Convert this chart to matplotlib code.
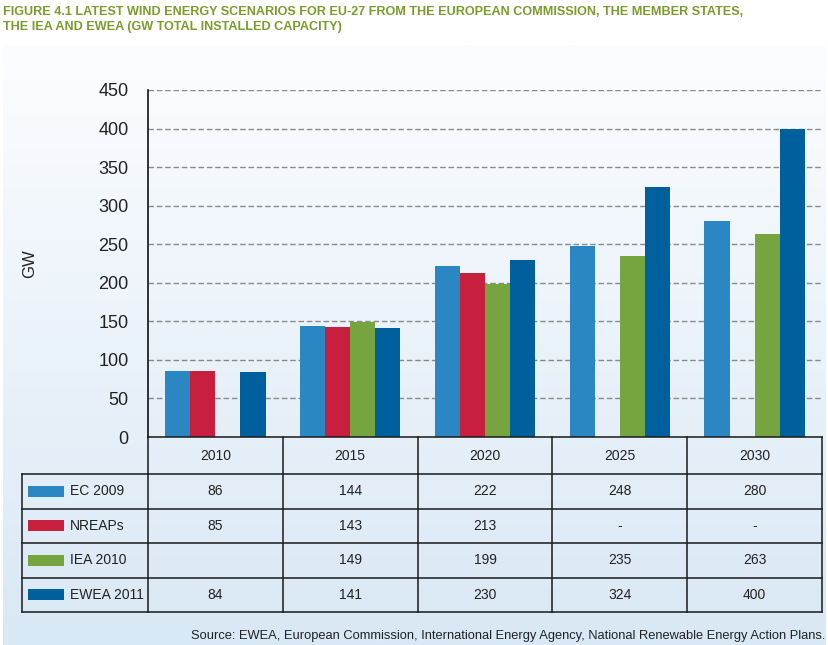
import numpy as np
import matplotlib
matplotlib.use("Agg")
import matplotlib.pyplot as plt
from matplotlib.patches import Rectangle

years = ["2010", "2015", "2020", "2025", "2030"]
series = ["EC 2009", "NREAPs", "IEA 2010", "EWEA 2011"]
ec_2009 = [86, 144, 222, 248, 280]
nreaps = [85, 143, 213, None, None]
iea_2010 = [None, 149, 199, 235, 263]
ewea_2011 = [84, 141, 230, 324, 400]
colors = ["#2b86c4", "#c81f3f", "#76a540", "#005f9d"]
all_values = [ec_2009, nreaps, iea_2010, ewea_2011]

plt.rcParams["font.family"] = ["Liberation Sans", "DejaVu Sans"]

W, H = 829, 645
fig = plt.figure(figsize=(W / 100, H / 100), dpi=100)
fig.patch.set_facecolor("white")


def px(x0, y0, x1, y1):
    # pixel box (top-left origin) -> figure fraction rect
    return [x0 / W, 1 - y1 / H, (x1 - x0) / W, (y1 - y0) / H]


# gradient panel behind everything
bg = fig.add_axes(px(3, 45, 826, 645), zorder=0)
grad = np.linspace(0, 1, 256).reshape(-1, 1)
cmap = matplotlib.colors.LinearSegmentedColormap.from_list("bg", ["#fcfdff", "#d9e8f5"])
bg.imshow(grad, aspect="auto", cmap=cmap, extent=[0, 1, 0, 1], origin="upper")
bg.axis("off")

# title
title_font = dict(family=["Liberation Sans", "DejaVu Sans"], weight="bold",
                  color="#7a9c2c", fontsize=9.1)
fig.text(3 / W, 1 - 12 / H, "FIGURE 4.1 LATEST WIND ENERGY SCENARIOS FOR EU-27 FROM THE EUROPEAN COMMISSION, THE MEMBER STATES,",
         va="center", ha="left", **title_font)
fig.text(3 / W, 1 - 27 / H, "THE IEA AND EWEA (GW TOTAL INSTALLED CAPACITY)",
         va="center", ha="left", **title_font)

# bar chart
ax = fig.add_axes(px(148, 90, 822, 437), zorder=2)
ax.set_facecolor("none")
x = np.arange(len(years)) + 0.5
width = 0.186
for i, (vals, col) in enumerate(zip(all_values, colors)):
    h = [np.nan if v is None else v for v in vals]
    ax.bar(x + (i - 1.5) * width, h, width=width, color=col, edgecolor="none", zorder=3)

ax.set_xlim(0, 5)
ax.set_ylim(0, 450)
ax.set_yticks(np.arange(0, 451, 50))
ax.set_xticks([])
ax.tick_params(axis="y", length=0, labelsize=13, pad=14, labelcolor="#222222")
ax.yaxis.grid(True, linestyle=(0, (4, 2)), color="#8a8a8a", linewidth=1.0, zorder=1)
for s in ["top", "right", "bottom"]:
    ax.spines[s].set_visible(False)
ax.spines["left"].set_color("#111111")
ax.spines["left"].set_linewidth(1.2)
ax.set_ylabel("GW", fontsize=12, color="#222222")
ax.yaxis.set_label_coords((37 - 148) / 674, 0.5)

# table
tb = fig.add_axes(px(0, 0, W, H), zorder=3)
tb.set_xlim(0, W)
tb.set_ylim(H, 0)
tb.axis("off")
col_edges = [22, 148, 282.8, 417.6, 552.4, 687.2, 822]
row_edges = [437, 474, 508.5, 543, 577.5, 612]
lc = "#1a1a1a"
lw = 1.1
# header row (years only)
tb.plot([148, 822], [437, 437], color=lc, lw=lw)
for xe in col_edges[1:]:
    tb.plot([xe, xe], [437, 612], color=lc, lw=lw)
tb.plot([22, 22], [474, 612], color=lc, lw=lw)
for ye in row_edges[1:]:
    tb.plot([22, 822], [ye, ye], color=lc, lw=lw)

tfs = 10
for j, yr in enumerate(years):
    cx = (col_edges[j + 1] + col_edges[j + 2]) / 2
    tb.text(cx, (437 + 474) / 2, yr, ha="center", va="center", fontsize=tfs, color="#222222")
for i, (name, vals, col) in enumerate(zip(series, all_values, colors)):
    cy = (row_edges[i + 1] + row_edges[i + 2]) / 2
    tb.add_patch(Rectangle((28, cy - 5.5), 36, 11, color=col, lw=0))
    tb.text(70, cy, name, ha="left", va="center", fontsize=tfs, color="#222222")
    for j, v in enumerate(vals):
        cx = (col_edges[j + 1] + col_edges[j + 2]) / 2
        if v is None:
            txt = "-" if name == "NREAPs" else ""
        else:
            txt = str(v)
        tb.text(cx, cy, txt, ha="center", va="center", fontsize=tfs, color="#222222")

fig.text(825 / W, 1 - 636 / H,
         "Source: EWEA, European Commission, International Energy Agency, National Renewable Energy Action Plans.",
         ha="right", va="center", fontsize=9.3, color="#222222")

fig.savefig("out.png", dpi=100)
